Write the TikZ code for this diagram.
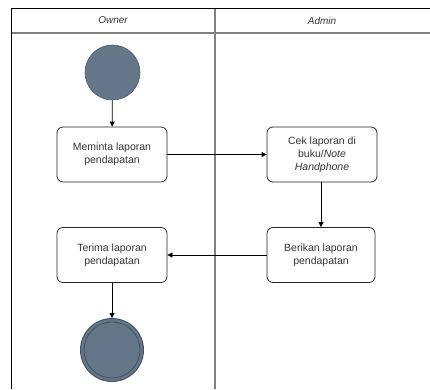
\documentclass[tikz,border=0pt]{standalone}
\usepackage{fontspec}
\setmainfont{Liberation Sans}
\usetikzlibrary{arrows.meta}
\definecolor{slate}{HTML}{647687}
\definecolor{slatedark}{HTML}{3E4F60}
\definecolor{lanegray}{HTML}{808080}
\definecolor{hdrtext}{HTML}{333333}
\begin{document}
\begin{tikzpicture}[x=1pt,y=-1pt,
  actbox/.style={draw=black!85, line width=0.8pt, rounded corners=6pt, minimum width=110pt, minimum height=55pt, align=center, font=\fontsize{10.5}{13}\selectfont, text=black!80, inner sep=2pt},
  startnode/.style={circle, fill=slate, draw=slate!80!black, line width=0.6pt, minimum size=55pt, inner sep=0pt},
  endnode/.style={circle, fill=slate, draw=slatedark, line width=0.9pt, minimum size=63pt, inner sep=0pt},
  innerring/.style={circle, draw=slatedark, line width=0.8pt, minimum size=56pt, inner sep=0pt},
  flow/.style={draw=black, line width=0.8pt, -{Triangle[length=5pt,width=5pt]}},
  hdr/.style={font=\fontsize{10}{12}\selectfont\itshape, text=hdrtext}
]
\useasboundingbox (0,0) rectangle (430,389);
% lanes
\draw[lanegray, line width=1.2pt] (11,33) -- (430,33);
\draw[lanegray, line width=1.2pt] (215,8) -- (215,389);
\draw[black, line width=1pt] (11,389) -- (11,8) -- (430,8);
\node[hdr] (hOwner) at (113,20.5) {Owner};
\node[hdr] (hAdmin) at (322,20.5) {Admin};
% nodes
\node[startnode] (start) at (112.5,72.5) {};
\node[actbox] (b1) at (112,154.5) {Meminta laporan\\pendapatan};
\node[actbox] (b2) at (322,154.5) {Cek laporan di\\buku/\textit{Note}\\\textit{Handphone}};
\node[actbox, minimum width=108pt] (b3) at (321,255) {Berikan laporan\\pendapatan};
\node[actbox] (b4) at (112,255) {Terima laporan\\pendapatan};
\node[endnode] (end) at (112,350) {};
\node[innerring] (endin) at (end.center) {};
% flows
\draw[flow] (start) -- (b1);
\draw[flow] (b1) -- (b2);
\draw[flow] (b2.south -| b3.north) -- (b3.north);
\draw[flow] (b3) -- (b4);
\draw[flow] (b4) -- (end);
\end{tikzpicture}
\end{document}
